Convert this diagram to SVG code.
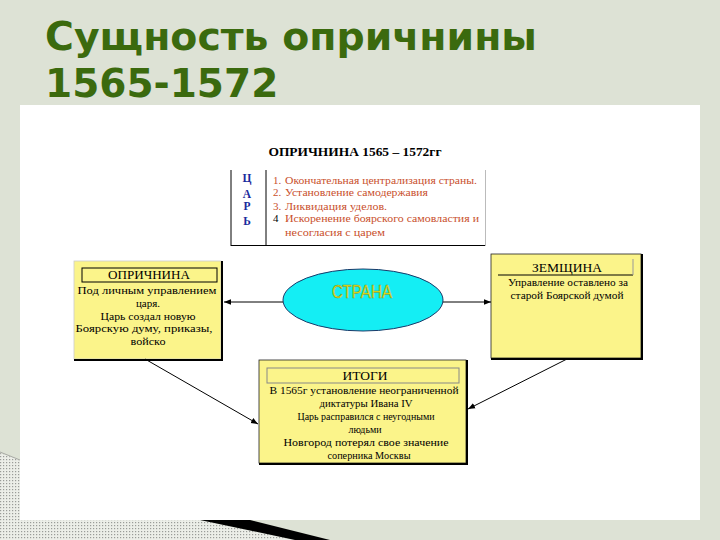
<svg xmlns="http://www.w3.org/2000/svg" width="720" height="540" viewBox="0 0 720 540">
<defs>
<style>
.t{font-family:"Liberation Serif","Times New Roman",serif;font-size:11px;fill:#000}
.h{font-family:"Liberation Serif","Times New Roman",serif;font-size:13px;fill:#000}
.r{font-family:"Liberation Serif","Times New Roman",serif;font-size:11px;fill:#c9502c}
.c{font-family:"Liberation Serif","Times New Roman",serif;font-size:11.5px;font-weight:bold;fill:#1a2a9c}
.box{fill:#fbf48a;stroke:#222;stroke-width:0.8}
.sh{fill:none;stroke:#000;stroke-width:2}
.con{stroke:#000;stroke-width:1;fill:none}
</style>
<pattern id="dots" width="3" height="3" patternUnits="userSpaceOnUse">
<rect width="3" height="3" fill="#eceee8"/>
<rect width="1.2" height="1.2" fill="#9a9c98"/>
</pattern>
<marker id="ah" viewBox="0 0 10 10" refX="10" refY="5" markerWidth="7" markerHeight="7" orient="auto" markerUnits="userSpaceOnUse">
<path d="M0,1 L10,5 L0,9 z" fill="#000"/>
</marker>
</defs>
<rect width="720" height="540" fill="#dde2d5"/>
<polygon points="0,453 20,460 20,520 200,520 295,540 0,540" fill="url(#dots)"/>
<line x1="0" y1="452" x2="20" y2="460" stroke="#a8aaa5" stroke-width="1"/>
<polygon points="200,520 250,520 330,540 295,540" fill="#000"/>
<rect x="20" y="105" width="680" height="415" fill="#fff"/>
<g id="title" font-family="'DejaVu Sans',Verdana,sans-serif" font-weight="bold" font-size="39" fill="#3b6a0e">
<text x="45" y="50" textLength="492" lengthAdjust="spacingAndGlyphs">Сущность опричнины</text>
<text x="45" y="97">1565-1572</text>
</g>
<g id="header">
<text x="355" y="156" text-anchor="middle" font-family="'Liberation Serif','Times New Roman',serif" font-weight="bold" font-size="13" textLength="173" lengthAdjust="spacingAndGlyphs">ОПРИЧНИНА 1565 – 1572гг</text>
</g>
<g id="tsar">
<line x1="231" y1="170" x2="231" y2="246" stroke="#000" stroke-width="1"/>
<line x1="266" y1="170" x2="266" y2="246" stroke="#000" stroke-width="1"/>
<line x1="231" y1="245.5" x2="486" y2="245.5" stroke="#000" stroke-width="1"/>
<line x1="485.5" y1="170" x2="485.5" y2="246" stroke="#bbb" stroke-width="1"/>
<text class="c" x="247" y="182" text-anchor="middle">Ц</text>
<text class="c" x="247" y="198" text-anchor="middle">А</text>
<text class="c" x="247" y="210" text-anchor="middle">Р</text>
<text class="c" x="247" y="225" text-anchor="middle">Ь</text>
<text class="r" x="273" y="184">1.</text>
<text class="r" x="285" y="184" textLength="192" lengthAdjust="spacingAndGlyphs">Окончательная централизация страны.</text>
<text class="r" x="273" y="196">2.</text>
<text class="r" x="285" y="196" textLength="143" lengthAdjust="spacingAndGlyphs">Установление самодержавия</text>
<text class="r" x="273" y="210">3.</text>
<text class="r" x="285" y="210" textLength="102" lengthAdjust="spacingAndGlyphs">Ликвидация уделов.</text>
<text class="r" x="273" y="222" style="fill:#000">4</text>
<text class="r" x="285" y="222" textLength="194" lengthAdjust="spacingAndGlyphs">Искоренение боярского самовластия и</text>
<text class="r" x="285" y="236" textLength="100" lengthAdjust="spacingAndGlyphs">несогласия с царем</text>
</g>
<g id="oprichnina">
<rect class="box" x="74" y="261" width="147" height="98" style="stroke:#ccc"/>
<path class="sh" d="M222,261 V360 H74"/>
<rect x="82" y="268" width="135" height="14" fill="none" stroke="#000" stroke-width="1"/>
<text class="h" x="149" y="279" text-anchor="middle" textLength="82" lengthAdjust="spacingAndGlyphs">ОПРИЧНИНА</text>
<text class="t" x="147" y="294" text-anchor="middle" textLength="139" lengthAdjust="spacingAndGlyphs">Под личным управлением</text>
<text class="t" x="148" y="307" text-anchor="middle">царя.</text>
<text class="t" x="148" y="320" text-anchor="middle" textLength="95" lengthAdjust="spacingAndGlyphs">Царь создал новую</text>
<text class="t" x="144" y="332" text-anchor="middle" textLength="137" lengthAdjust="spacingAndGlyphs">Боярскую думу, приказы,</text>
<text class="t" x="148" y="345" text-anchor="middle" textLength="35" lengthAdjust="spacingAndGlyphs">войско</text>
</g>
<g id="zemshchina">
<rect class="box" x="491" y="254" width="150" height="104"/>
<path class="sh" d="M642,254 V359 H491"/>
<line x1="498" y1="275" x2="633" y2="275" stroke="#000" stroke-width="1"/>
<line x1="633" y1="259" x2="633" y2="275" stroke="#999" stroke-width="1"/>
<text class="h" x="567" y="272" text-anchor="middle" textLength="70" lengthAdjust="spacingAndGlyphs">ЗЕМЩИНА</text>
<text class="t" x="568" y="286" text-anchor="middle" textLength="120" lengthAdjust="spacingAndGlyphs">Управление оставлено за</text>
<text class="t" x="567" y="299" text-anchor="middle" textLength="113" lengthAdjust="spacingAndGlyphs">старой Боярской думой</text>
</g>
<g id="itogi">
<rect class="box" x="259" y="360" width="207" height="103"/>
<path class="sh" d="M467,360 V464 H259"/>
<rect x="267" y="368" width="192" height="15" fill="none" stroke="#888" stroke-width="1"/>
<text class="h" x="365" y="380" text-anchor="middle" textLength="45" lengthAdjust="spacingAndGlyphs">ИТОГИ</text>
<text class="t" x="364" y="394" text-anchor="middle" textLength="189" lengthAdjust="spacingAndGlyphs">В 1565г установление неограниченной</text>
<text class="t" x="366" y="407" text-anchor="middle" textLength="93" lengthAdjust="spacingAndGlyphs">диктатуры Ивана  IV</text>
<text class="t" x="366" y="420" text-anchor="middle" textLength="137" lengthAdjust="spacingAndGlyphs">Царь расправился с неугодными</text>
<text class="t" x="365" y="433" text-anchor="middle" textLength="33" lengthAdjust="spacingAndGlyphs">людьми</text>
<text class="t" x="366" y="446" text-anchor="middle" textLength="165" lengthAdjust="spacingAndGlyphs">Новгород потерял свое значение</text>
<text class="t" x="369" y="459" text-anchor="middle" textLength="83" lengthAdjust="spacingAndGlyphs">соперника Москвы</text>
</g>
<g id="strana">
<ellipse cx="363" cy="300" rx="80" ry="31" fill="#14eef4" stroke="#1b3a6a" stroke-width="1"/>
<text x="362" y="298" text-anchor="middle" font-family="'Liberation Sans Narrow','Liberation Sans',Arial,sans-serif" font-size="18" fill="#f2ea10" stroke="#7a8a2a" stroke-width="0.5" textLength="60" lengthAdjust="spacingAndGlyphs">СТРАНА</text>
</g>
<g id="connectors">
<line class="con" x1="283" y1="302" x2="224" y2="302" marker-end="url(#ah)"/>
<line class="con" x1="443" y1="302" x2="491" y2="302" marker-end="url(#ah)"/>
<line class="con" x1="145" y1="359" x2="258" y2="424" marker-end="url(#ah)"/>
<line class="con" x1="567" y1="359" x2="468" y2="409" marker-end="url(#ah)"/>
</g>
</svg>
